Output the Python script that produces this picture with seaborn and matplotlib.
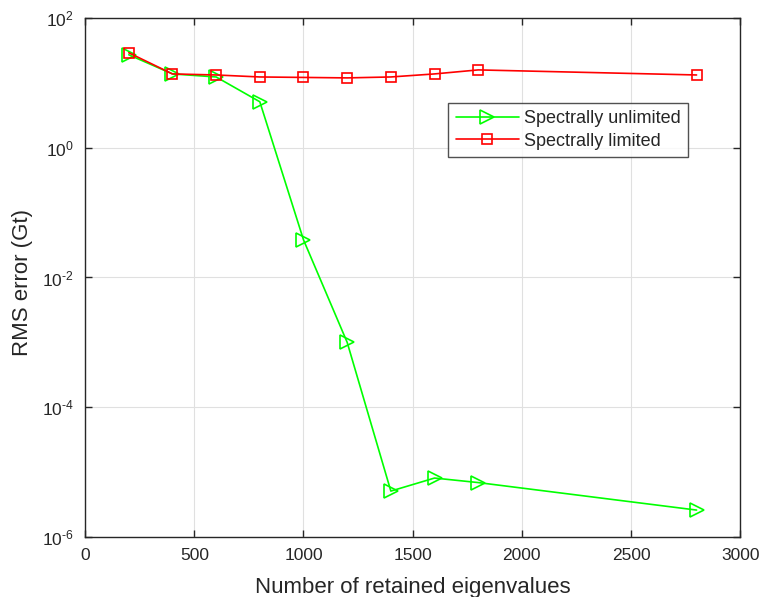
import pandas as pd
import matplotlib.pyplot as plt
import seaborn as sns

# values
eigs = [200, 400, 600, 800, 1000, 1200, 1400, 1600, 1800, 2800]
rms_unlimited = [27, 13.7, 12.3, 5.1, 0.038, 0.001, 5.1e-6, 8.1e-6, 6.9e-6, 2.6e-6]
rms_limited = [29, 13.7, 13.2, 12.3, 12.1, 11.9, 12.3, 13.7, 15.8, 13.2]
y_exps = [-6, -4, -2, 0, 2]

df = pd.DataFrame({"eig": eigs, "unlim": rms_unlimited, "lim": rms_limited})

sns.set_style("ticks")
plt.rcParams["font.family"] = ["Liberation Sans", "DejaVu Sans"]
plt.rcParams["mathtext.fontset"] = "custom"
plt.rcParams["mathtext.rm"] = "Liberation Sans"
plt.rcParams["mathtext.it"] = "Liberation Sans"
plt.rcParams["axes.unicode_minus"] = False

fig = plt.figure(figsize=(7.6, 5.97), dpi=100)
ax = fig.add_axes([0.112, 0.1005, 0.862, 0.8695])

sns.lineplot(data=df, x="eig", y="unlim", ax=ax, color="#00ff00", marker=">",
             markersize=10, markerfacecolor="none", markeredgecolor="#00ff00",
             markeredgewidth=1.2, linewidth=1.2, label="Spectrally unlimited")
sns.lineplot(data=df, x="eig", y="lim", ax=ax, color="#ff0000", marker="s",
             markersize=6.5, markerfacecolor="none", markeredgecolor="#ff0000",
             markeredgewidth=1.2, linewidth=1.2, label="Spectrally limited")

ax.set_yscale("log")
ax.set_xlim(0, 3000)
ax.set_ylim(1e-6, 1e2)
ax.set_xticks(range(0, 3001, 500))
ax.set_yticks([10.0 ** e for e in y_exps])
ax.set_yticklabels([r"$\mathregular{10^{\text{%d}}}$" % e for e in y_exps])
ax.minorticks_off()
ax.grid(True, color="#e0e0e0", linewidth=0.8)
ax.set_axisbelow(True)
for s in ax.spines.values():
    s.set_color("#262626")
    s.set_linewidth(1.0)
ax.tick_params(direction="in", top=True, right=True, length=5, width=1,
               labelsize=12.5, colors="#262626", pad=8)
ax.set_xlabel("Number of retained eigenvalues", fontsize=16, color="#262626")
ax.set_ylabel("RMS error (Gt)", fontsize=16, color="#262626")
ax.xaxis.set_label_coords(0.5, -0.077)
ax.yaxis.set_label_coords(-0.08, 0.49)

leg = ax.legend(loc="upper right", bbox_to_anchor=(0.9206, 0.8362), fontsize=13,
                frameon=True, fancybox=False, edgecolor="#262626",
                handlelength=3.5, handletextpad=0.3, borderpad=0.4,
                labelspacing=0.3, borderaxespad=0)
leg.get_frame().set_linewidth(1.0)

plt.savefig("out.png", dpi=100)
